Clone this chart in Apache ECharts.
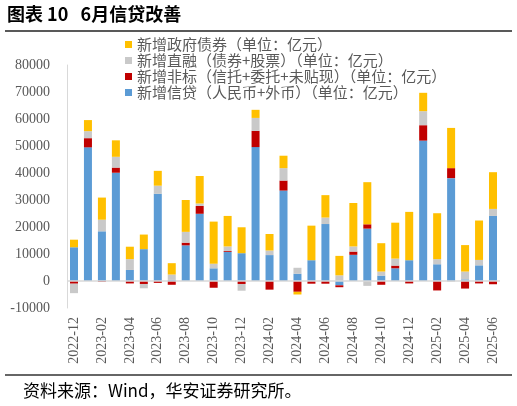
<!DOCTYPE html>
<html>
<head>
<meta charset="utf-8">
<script src="https://cdn.jsdelivr.net/npm/echarts@6/dist/echarts.min.js"></script>
<style>
html,body{margin:0;padding:0;background:#fff;}
#c{width:517px;height:406px;}
</style>
</head>
<body>
<div id="c"></div>
<script>
const months = ['2022-12','2023-01','2023-02','2023-03','2023-04','2023-05','2023-06','2023-07','2023-08','2023-09','2023-10','2023-11','2023-12',
'2024-01','2024-02','2024-03','2024-04','2024-05','2024-06','2024-07','2024-08','2024-09','2024-10','2024-11','2024-12',
'2025-01','2025-02','2025-03','2025-04','2025-05','2025-06'];
const credit = [12500,49500,18400,40100,4100,11800,32300,400,13200,24900,4700,10800,10300,
49600,9600,33500,2700,7700,21100,-1600,9700,19400,2000,4700,7700,
52000,6200,38100,600,5800,24100];
const nonStandard = [-1000,3400,-300,1900,-900,-1100,-700,-1400,1000,2900,-2500,300,-1100,
6000,-3200,3700,-4000,-1000,-1000,-700,1200,1600,-1400,1000,-900,
5700,-3500,3700,-2800,-900,-1200];
const directFin = [-3500,2600,4300,4000,4000,-1600,3000,2000,4000,900,1700,1700,-2500,
4800,1700,4600,2200,0,2400,2100,1900,-1800,1500,2600,0,
5200,1900,-300,2900,2000,2600];
const govBond = [2800,4100,8200,6100,4600,5400,5500,4200,11800,10200,15600,11300,9600,
3000,6100,4600,-1000,12800,8300,7200,16100,15600,10500,13300,17900,
6800,17000,14900,9800,14600,13600];
const names = ['新增信贷（人民币+外币）（单位：亿元）','新增非标（信托+委托+未贴现）（单位：亿元）','新增直融（债券+股票）（单位：亿元）','新增政府债券（单位：亿元）'];
const yTicks = {min:-10000,max:80000,interval:10000};

const colors = ['#5B9BD5','#C00000','#C9C9C9','#FFC000'];
const dataSets = [credit, nonStandard, directFin, govBond];
const serif = 'Times New Roman';
const chart = echarts.init(document.getElementById('c'));
const series = dataSets.map((d,i)=>({
  name: names[i], type:'bar', stack:'total', data:d, barWidth:8,
  itemStyle:{color:colors[i]},
  markLine: i===0 ? {silent:true, symbol:'none', label:{show:false},
    lineStyle:{color:'#D9D9D9', type:'solid', width:1.5}, data:[{yAxis:0}], animation:false} : undefined
}));
chart.setOption({
  animation:false,
  grid:{left:67,right:17,top:65,bottom:98,containLabel:false},
  legend:{orient:'vertical',left:120,top:32,itemWidth:7,itemHeight:7,itemGap:1,icon:'rect',
    data:[names[3],names[2],names[1],names[0]],
    textStyle:{fontSize:15,color:'#595959',fontFamily:'Noto Sans CJK SC'}},
  xAxis:{type:'category',data:months,
    axisLine:{show:false},axisTick:{show:false},
    axisLabel:{interval:1,rotate:90,fontSize:14,color:'#595959',fontFamily:serif,margin:9}},
  yAxis:{type:'value',min:yTicks.min,max:yTicks.max,interval:yTicks.interval,
    axisLine:{show:true,lineStyle:{color:'#D9D9D9'}},axisTick:{show:false},splitLine:{show:false},
    axisLabel:{fontSize:14,color:'#595959',fontFamily:serif,margin:17,formatter:v=>String(v)}},
  series:series,
  graphic:[
    {type:'text',left:7,top:5,style:{text:'图表 10   6月信贷改善',fontSize:18,fontWeight:'bold',fill:'#000',fontFamily:'Noto Sans CJK SC'}},
    {type:'line',shape:{x1:5,y1:31,x2:512,y2:31},style:{stroke:'#222',lineWidth:1.5}},
    {type:'line',shape:{x1:5,y1:375,x2:512,y2:375},style:{stroke:'#333',lineWidth:1.5}},
    {type:'text',left:23,top:382,style:{text:'资料来源：Wind，华安证券研究所。',fontSize:17,fill:'#000',fontFamily:'Noto Sans CJK SC'}}
  ]
});
</script>
</body>
</html>
